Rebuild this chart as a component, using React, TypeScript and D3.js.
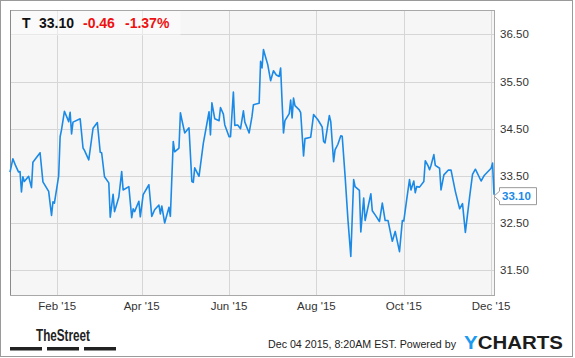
import React from "react";
import * as d3 from "d3";

const dates: string[] = [
  "2014-12-30","2015-01-01","2015-01-03","2015-01-05","2015-01-06","2015-01-07","2015-01-08","2015-01-09","2015-01-12","2015-01-14",
  "2015-01-15","2015-01-20","2015-01-22","2015-01-26","2015-01-28","2015-01-29","2015-01-30","2015-02-02","2015-02-03","2015-02-04",
  "2015-02-06","2015-02-09","2015-02-10","2015-02-11","2015-02-12","2015-02-17","2015-02-19","2015-02-20","2015-02-23","2015-02-26",
  "2015-03-01","2015-03-03","2015-03-04","2015-03-06","2015-03-09","2015-03-10","2015-03-12","2015-03-13","2015-03-16","2015-03-18",
  "2015-03-19","2015-03-23","2015-03-25","2015-03-26","2015-03-27","2015-03-30","2015-03-31","2015-04-02","2015-04-06","2015-04-08",
  "2015-04-10","2015-04-13","2015-04-14","2015-04-15","2015-04-17","2015-04-20","2015-04-21","2015-04-23","2015-04-24","2015-04-27",
  "2015-04-28","2015-04-29","2015-05-01","2015-05-04","2015-05-06","2015-05-07","2015-05-08","2015-05-11","2015-05-14","2015-05-18",
  "2015-05-19","2015-05-20","2015-05-22","2015-05-25","2015-05-26","2015-05-28","2015-05-29","2015-06-01","2015-06-02","2015-06-04",
  "2015-06-05","2015-06-07","2015-06-09","2015-06-11","2015-06-12","2015-06-15","2015-06-17","2015-06-18","2015-06-22","2015-06-23",
  "2015-06-24","2015-06-25","2015-06-26","2015-06-28","2015-06-30","2015-07-02","2015-07-04","2015-07-06","2015-07-07","2015-07-08",
  "2015-07-09","2015-07-10","2015-07-13","2015-07-14","2015-07-15","2015-07-16","2015-07-17","2015-07-20","2015-07-21","2015-07-23",
  "2015-07-24","2015-07-28","2015-07-30","2015-08-02","2015-08-04","2015-08-05","2015-08-06","2015-08-07","2015-08-10","2015-08-11",
  "2015-08-13","2015-08-14","2015-08-16","2015-08-18","2015-08-19","2015-08-21","2015-08-23","2015-08-25","2015-08-27","2015-08-28",
  "2015-08-31","2015-09-01","2015-09-03","2015-09-04","2015-09-08","2015-09-09","2015-09-11","2015-09-14","2015-09-16","2015-09-18",
  "2015-09-20","2015-09-22","2015-09-23","2015-09-25","2015-09-28","2015-09-30","2015-10-01","2015-10-03","2015-10-05","2015-10-06",
  "2015-10-08","2015-10-09","2015-10-10","2015-10-12","2015-10-15","2015-10-16","2015-10-18","2015-10-19","2015-10-20","2015-10-22",
  "2015-10-23","2015-10-26","2015-10-27","2015-10-29","2015-11-01","2015-11-03","2015-11-06","2015-11-09","2015-11-11","2015-11-13",
  "2015-11-16","2015-11-18","2015-11-20","2015-11-24","2015-11-26","2015-12-01","2015-12-02","2015-12-03",
];

const prices: number[] = [
  33.58,33.86,33.71,33.58,33.59,33.16,33.48,33.38,33.49,33.25,
  33.79,33.99,33.37,33.17,32.66,32.95,32.92,33.50,34.33,34.48,
  34.87,34.65,34.85,34.39,34.64,34.71,34.09,34.04,33.84,34.51,
  34.63,34.00,33.99,33.48,33.35,32.62,33.11,32.74,33.05,33.59,
  33.20,33.27,32.61,32.80,32.74,32.96,32.63,33.10,33.31,32.64,
  32.78,32.88,32.69,32.86,32.50,32.83,32.64,34.23,34.01,34.09,
  34.84,34.69,34.41,34.52,33.38,33.36,33.67,33.49,34.19,34.86,
  34.37,35.05,34.71,34.67,34.95,34.81,34.58,34.33,34.33,35.28,
  34.57,34.58,34.50,34.88,34.64,34.41,34.76,35.01,35.04,35.93,
  35.79,36.18,36.07,35.86,35.52,35.73,35.64,35.61,35.79,35.08,
  34.41,34.67,34.82,35.11,34.73,35.15,34.99,34.90,34.84,33.92,
  34.29,34.32,34.80,34.69,34.59,34.54,34.23,34.20,34.78,34.65,
  33.80,34.05,34.17,34.35,34.34,33.50,32.57,31.79,33.42,33.27,
  33.19,32.31,33.03,32.55,33.12,32.76,32.67,32.53,32.92,32.55,
  32.55,32.25,32.11,32.32,31.89,32.55,32.54,32.99,33.42,33.20,
  33.39,33.14,33.27,33.26,33.38,33.82,33.71,33.63,33.72,33.95,
  33.72,33.66,33.20,33.52,33.62,33.62,33.17,32.80,32.91,32.30,
  33.06,33.53,33.64,33.39,33.50,33.66,33.77,33.10,
];

const xTickDates: string[] = ["2015-02-01", "2015-04-01", "2015-06-01", "2015-08-01", "2015-10-01", "2015-12-01"];
const yTickValues: number[] = [31.5, 32.5, 33.5, 34.5, 35.5, 36.5];
const xDomain: string[] = ["2014-12-30", "2015-12-03"];
const yDomain: number[] = [30.97, 37.02];

const ticker = "T";
const lastPrice = "33.10";
const change = "-0.46";
const changePct = "-1.37%";
const stamp = "Dec 04 2015, 8:20AM EST.";

export default function App() {
  const W = 575, H = 358;
  const left = 10, right = 494, top = 10, bottom = 295;
  const parse = d3.timeParse("%Y-%m-%d");
  const data = dates.map((d, i) => ({ date: parse(d) as Date, value: prices[i] }));
  const x = d3.scaleTime().domain(xDomain.map((d) => parse(d) as Date)).range([left, right]);
  const y = d3.scaleLinear().domain(yDomain).range([bottom, top]);
  const line = d3.line<{ date: Date; value: number }>().x((d) => x(d.date)).y((d) => y(d.value));
  const fmtX = d3.timeFormat("%b '%y");
  const fmtY = d3.format(".2f");
  const last = data[data.length - 1];
  const ly = y(last.value) + 1.5;
  const font = "'Liberation Sans', Arial, sans-serif";
  const tag = `M${right},${ly} L${499.5},${ly - 5} L499.5,${ly - 8.5} L536.5,${ly - 8.5} L536.5,${ly + 8.5} L499.5,${ly + 8.5} L499.5,${ly + 5} Z`;

  return (
    <div style={{ position: "fixed", left: 0, top: 0 }}>
      <svg width={W} height={H} style={{ display: "block", fontFamily: font }}>
        <rect x={0} y={0} width={W} height={H} fill="#ffffff" />
        <rect x={0.5} y={0.5} width={572} height={356} fill="none" stroke="#9a9a9a" />
        <rect x={left} y={top} width={right - left} height={bottom - top} fill="#f6f6f6" />
        {yTickValues.map((v) => (
          <line key={"gy" + v} x1={left} x2={right} y1={Math.round(y(v)) + 0.5} y2={Math.round(y(v)) + 0.5} stroke="#d6d6d6" />
        ))}
        {xTickDates.map((d) => {
          const xx = Math.round(x(parse(d) as Date)) + 0.5;
          return <line key={"gx" + d} x1={xx} x2={xx} y1={top} y2={bottom} stroke="#d6d6d6" />;
        })}
        <rect x={left + 0.5} y={top + 0.5} width={170} height={25} fill="#ffffff" fillOpacity={0.45} />
        <rect x={left + 0.5} y={top + 0.5} width={right - left} height={bottom - top} fill="none" stroke="#a8a8a8" />
        <line x1={left + 0.5} x2={left + 0.5} y1={top} y2={bottom} stroke="#8a8a8a" />
        <path d={line(data) || ""} fill="none" stroke="#1b8ae6" strokeWidth={1.6} strokeLinejoin="round" />
        {yTickValues.map((v) => (
          <text key={"ty" + v} x={500} y={y(v) + 4} fontSize={11.5} fill="#333">{fmtY(v)}</text>
        ))}
        {xTickDates.map((d) => (
          <text key={"tx" + d} x={x(parse(d) as Date)} y={310} fontSize={11.5} fill="#333" textAnchor="middle">
            {fmtX(parse(d) as Date)}
          </text>
        ))}
        <path d={tag} fill="#ffffff" stroke="#9a9a9a" />
        <text x={502} y={ly + 4} fontSize={11.5} fontWeight="bold" fill="#1b8ae6">{lastPrice}</text>
        <text y={28} fontSize={14} fontWeight="bold">
          <tspan x={22} fill="#111">{ticker}</tspan>
          <tspan x={39} fill="#111">{lastPrice}</tspan>
          <tspan x={83} fill="#ee1111">{change}</tspan>
          <tspan x={125} fill="#ee1111">{changePct}</tspan>
        </text>
        <text x={36} y={341} fontSize={16} fontWeight="bold" fill="#222" textLength={54} lengthAdjust="spacingAndGlyphs"
          style={{ fontFamily: "'Liberation Sans Narrow', 'Liberation Sans', sans-serif" }}>TheStreet</text>
        <rect x={10} y={347} width={32} height={3.5} fill="#222" />
        <rect x={47} y={347} width={32} height={3.5} fill="#222" />
        <rect x={84} y={347} width={32} height={3.5} fill="#222" />
        <text x={268} y={348} fontSize={11} fill="#222" textLength={188} lengthAdjust="spacingAndGlyphs">{stamp + "  Powered by"}</text>
        <text x={464} y={349} fontSize={18.5} fontWeight="bold" textLength={99} lengthAdjust="spacingAndGlyphs">
          <tspan fill="#1b9af0">Y</tspan>
          <tspan fill="#1c1c1c">CHARTS</tspan>
        </text>
      </svg>
    </div>
  );
}
